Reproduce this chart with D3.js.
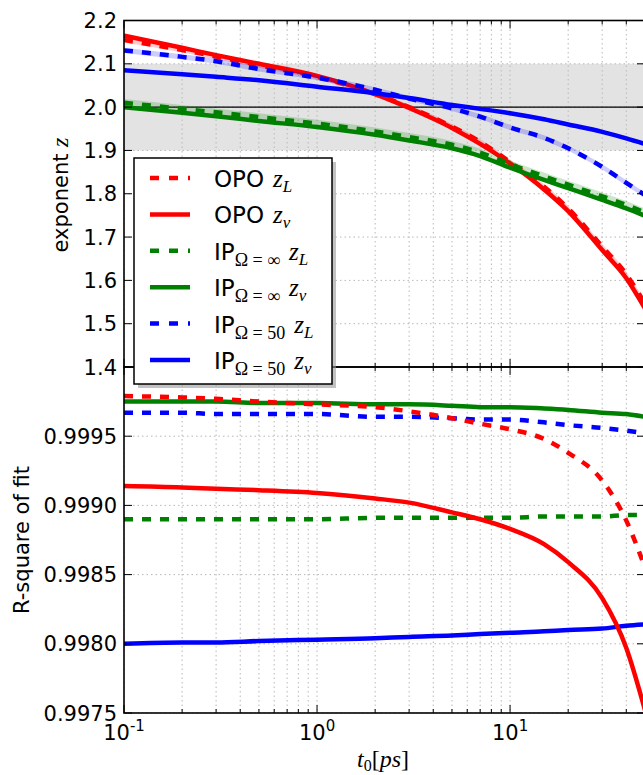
<!DOCTYPE html>
<html lang="en">
<head>
  <meta charset="UTF-8">
  <title>Exponent z and R-square of fit</title>
  <script src="https://d3js.org/d3.v7.min.js"></script>
  <style>
    body { margin: 0; background: #fff; }
    svg { display: block; font-family: "DejaVu Sans", sans-serif; }
    .tick-label { font-size: 21px; fill: #000; }
    .grid line { stroke: #b8b8b8; stroke-width: 1; stroke-dasharray: 1.5,3; }
    .math { font-family: "Liberation Serif", serif; font-style: italic; }
  </style>
</head>
<body>
<div id="chart"></div>
<script>
  // t0 sample positions [ps]
  const tVals = [0.1, 0.2, 0.3, 0.5, 1, 2, 3, 5, 7, 10, 15, 20, 30, 40, 50];

  // top panel: exponent z
  const opoZL   = [2.155, 2.132, 2.117, 2.097, 2.070, 2.030, 2.000, 1.955, 1.920, 1.873, 1.816, 1.766, 1.678, 1.614, 1.546];
  const opoZv   = [2.165, 2.137, 2.120, 2.100, 2.072, 2.030, 1.998, 1.952, 1.915, 1.870, 1.810, 1.760, 1.670, 1.605, 1.535];
  const ipInfZL = [2.010, 1.996, 1.988, 1.977, 1.962, 1.944, 1.931, 1.913, 1.895, 1.868, 1.840, 1.821, 1.794, 1.774, 1.757];
  const ipInfZv = [2.000, 1.987, 1.979, 1.968, 1.954, 1.936, 1.923, 1.905, 1.887, 1.860, 1.832, 1.813, 1.786, 1.766, 1.749];
  const ip50ZL  = [2.131, 2.116, 2.106, 2.088, 2.068, 2.040, 2.020, 1.997, 1.978, 1.953, 1.929, 1.905, 1.862, 1.825, 1.797];
  const ip50Zv  = [2.085, 2.076, 2.070, 2.062, 2.047, 2.032, 2.021, 2.005, 1.996, 1.986, 1.972, 1.960, 1.943, 1.928, 1.915];
  // half width of the error band drawn behind the z_L curves
  const bandHalf = [0.006, 0.009, 0.006];

  // bottom panel: R-square of fit
  const r2OpoZL   = [0.99979, 0.99978, 0.99977, 0.99975, 0.99973, 0.99971, 0.99968, 0.99963, 0.99959, 0.99955, 0.99948, 0.99938, 0.99918, 0.99889, 0.99855];
  const r2OpoZv   = [0.99914, 0.99913, 0.99912, 0.99911, 0.99909, 0.99905, 0.99902, 0.99895, 0.99890, 0.99883, 0.99872, 0.99859, 0.99833, 0.99797, 0.99752];
  const r2IpInfZL = [0.99890, 0.99890, 0.99890, 0.99890, 0.99890, 0.99891, 0.99891, 0.99891, 0.99891, 0.99891, 0.99892, 0.99892, 0.99892, 0.99893, 0.99893];
  const r2IpInfZv = [0.99975, 0.99975, 0.99975, 0.99974, 0.99974, 0.99973, 0.99973, 0.99972, 0.99971, 0.99971, 0.99970, 0.99969, 0.99967, 0.99966, 0.99964];
  const r2Ip50ZL  = [0.99967, 0.99967, 0.99966, 0.99966, 0.99966, 0.99964, 0.99964, 0.99963, 0.99962, 0.99962, 0.99960, 0.99958, 0.99956, 0.99954, 0.99952];
  const r2Ip50Zv  = [0.99800, 0.99801, 0.99801, 0.99802, 0.99803, 0.99804, 0.99805, 0.99806, 0.99807, 0.99808, 0.99809, 0.99810, 0.99811, 0.99813, 0.99814];

  const topTicks = [1.4, 1.5, 1.6, 1.7, 1.8, 1.9, 2.0, 2.1, 2.2];
  const botTicks = [0.9975, 0.9980, 0.9985, 0.9990, 0.9995];
  const xMajor = [0.1, 1, 10];
  const xMajorExp = ["-1", "0", "1"];

  const W = 643, H = 775;
  const svg = d3.select("#chart").append("svg").attr("width", W).attr("height", H);

  const x = d3.scaleLog().domain([0.1, 50]).range([124, 645]);
  const yTop = d3.scaleLinear().domain([1.4, 2.2]).range([367, 20.5]);
  const yBot = d3.scaleLinear().domain([0.9975, 1.0]).range([713, 367]);

  const xMinor = [];
  [0.1, 1, 10].forEach(d => { for (let k = 2; k <= 9; k++) { const v = d * k; if (v < 50) xMinor.push(v); } });

  const series = [
    { name: "OPO", sub: null, color: "#ff0000", zL: opoZL, zv: opoZv, rL: r2OpoZL, rv: r2OpoZv },
    { name: "IP", sub: "Ω = ∞", color: "#008000", zL: ipInfZL, zv: ipInfZv, rL: r2IpInfZL, rv: r2IpInfZv },
    { name: "IP", sub: "Ω = 50", color: "#0000ff", zL: ip50ZL, zv: ip50Zv, rL: r2Ip50ZL, rv: r2Ip50Zv }
  ];

  const LW = 4.5;

  function panel(y, ticks, fmt, drawExtra) {
    const g = svg.append("g");
    const [y0, y1] = y.range();
    const clipId = "clip" + Math.round(y0);
    svg.append("clipPath").attr("id", clipId).append("rect")
      .attr("x", 124).attr("y", y1).attr("width", 521).attr("height", y0 - y1);

    const inner = g.append("g").attr("clip-path", `url(#${clipId})`);
    drawExtra(inner, "pre");

    // dotted grid
    const grid = inner.append("g").attr("class", "grid");
    grid.selectAll(".gx").data(xMinor.concat(xMajor)).enter().append("line")
      .attr("x1", d => x(d)).attr("x2", d => x(d)).attr("y1", y1).attr("y2", y0);
    grid.selectAll(".gy").data(ticks).enter().append("line")
      .attr("x1", 124).attr("x2", 645).attr("y1", d => y(d)).attr("y2", d => y(d));

    drawExtra(inner, "lines");

    // ticks on all four sides (inward)
    const tk = g.append("g").attr("stroke", "#000").attr("stroke-width", 1);
    xMajor.forEach(v => {
      tk.append("line").attr("x1", x(v)).attr("x2", x(v)).attr("y1", y0).attr("y2", y0 - 8);
      tk.append("line").attr("x1", x(v)).attr("x2", x(v)).attr("y1", y1).attr("y2", y1 + 8);
    });
    xMinor.forEach(v => {
      tk.append("line").attr("x1", x(v)).attr("x2", x(v)).attr("y1", y0).attr("y2", y0 - 4);
      tk.append("line").attr("x1", x(v)).attr("x2", x(v)).attr("y1", y1).attr("y2", y1 + 4);
    });
    ticks.forEach(v => {
      tk.append("line").attr("x1", 124).attr("x2", 132).attr("y1", y(v)).attr("y2", y(v));
      tk.append("line").attr("x1", 645).attr("x2", 637).attr("y1", y(v)).attr("y2", y(v));
    });

    // frame
    g.append("rect").attr("x", 124).attr("y", y1).attr("width", 521).attr("height", y0 - y1)
      .attr("fill", "none").attr("stroke", "#000").attr("stroke-width", 1.6);

    // y tick labels
    g.selectAll(".yl").data(ticks).enter().append("text").attr("class", "tick-label")
      .attr("x", 117).attr("y", d => y(d)).attr("dy", "0.36em")
      .attr("text-anchor", "end").text(fmt);
    return g;
  }

  const line = (yS, vals) => d3.line().x((d, i) => x(tVals[i])).y(d => yS(d)).curve(d3.curveMonotoneX)(vals);
  const area = (yS, vals, h) => d3.area().x((d, i) => x(tVals[i])).y0(d => yS(d - h)).y1(d => yS(d + h))
    .curve(d3.curveMonotoneX)(vals);

  // top panel
  panel(yTop, topTicks, d => d.toFixed(1), (g, stage) => {
    if (stage === "pre") {
      g.append("rect").attr("x", 124).attr("width", 521)
        .attr("y", yTop(2.1)).attr("height", yTop(1.9) - yTop(2.1)).attr("fill", "#e3e3e3");
      return;
    }
    g.append("line").attr("x1", 124).attr("x2", 645).attr("y1", yTop(2.0)).attr("y2", yTop(2.0))
      .attr("stroke", "#000").attr("stroke-width", 1.2);
    series.forEach((s, i) => {
      g.append("path").attr("d", area(yTop, s.zL, bandHalf[i])).attr("fill", s.color).attr("opacity", 0.2);
      g.append("path").attr("d", line(yTop, s.zv)).attr("fill", "none").attr("stroke", s.color).attr("stroke-width", LW);
      g.append("path").attr("d", line(yTop, s.zL)).attr("fill", "none").attr("stroke", s.color)
        .attr("stroke-width", LW).attr("stroke-dasharray", "9,9");
    });
  });

  // bottom panel
  panel(yBot, botTicks, d => d.toFixed(4), (g, stage) => {
    if (stage === "pre") return;
    series.slice().reverse().forEach(s => {
      g.append("path").attr("d", line(yBot, s.rv)).attr("fill", "none").attr("stroke", s.color).attr("stroke-width", LW);
      g.append("path").attr("d", line(yBot, s.rL)).attr("fill", "none").attr("stroke", s.color)
        .attr("stroke-width", LW).attr("stroke-dasharray", "9,9");
    });
  });

  // x tick labels
  xMajor.forEach((v, i) => {
    const t = svg.append("text").attr("class", "tick-label").attr("x", x(v)).attr("y", 740).attr("text-anchor", "middle");
    t.append("tspan").text("10");
    t.append("tspan").attr("dy", -9).attr("font-size", 15).text(xMajorExp[i]);
  });

  // axis labels
  const xl = svg.append("text").attr("x", 383).attr("y", 767).attr("text-anchor", "middle")
    .attr("font-family", "Liberation Serif, serif").attr("font-size", 24);
  xl.append("tspan").attr("font-style", "italic").text("t");
  xl.append("tspan").attr("dy", 4).attr("font-size", 16).text("0");
  xl.append("tspan").attr("dy", -4).text("[");
  xl.append("tspan").attr("font-style", "italic").text("ps");
  xl.append("tspan").text("]");

  const yl1 = svg.append("text").attr("transform", `translate(68,195) rotate(-90)`)
    .attr("text-anchor", "middle").attr("font-size", 21);
  yl1.append("tspan").text("exponent ");
  yl1.append("tspan").attr("class", "math").attr("font-size", 24).text("z");

  svg.append("text").attr("transform", `translate(29,540) rotate(-90)`)
    .attr("text-anchor", "middle").attr("font-size", 21).text("R-square of fit");

  // legend
  const lg = svg.append("g");
  lg.append("rect").attr("x", 138).attr("y", 162).attr("width", 198).attr("height", 226).attr("fill", "#999").attr("opacity", 0.6);
  lg.append("rect").attr("x", 134).attr("y", 158).attr("width", 198).attr("height", 226)
    .attr("fill", "#fff").attr("stroke", "#000").attr("stroke-width", 1.5);
  const entries = [];
  series.forEach(s => {
    entries.push({ s, dashed: true, z: "L" });
    entries.push({ s, dashed: false, z: "v" });
  });
  entries.forEach((e, i) => {
    const cy = 178 + i * 36.4;
    lg.append("line").attr("x1", 150).attr("x2", 190).attr("y1", cy).attr("y2", cy)
      .attr("stroke", e.s.color).attr("stroke-width", LW)
      .attr("stroke-dasharray", e.dashed ? "9,10" : null);
    const t = lg.append("text").attr("x", 214).attr("y", cy + 9).attr("font-size", 23);
    t.append("tspan").text(e.s.name);
    let zt;
    if (e.s.sub) {
      t.append("tspan").attr("dy", 6).attr("font-size", 18).attr("font-family", "Liberation Serif, serif").text(e.s.sub);
      zt = t.append("tspan").attr("dy", -6).attr("dx", 9);
    } else {
      zt = t.append("tspan").attr("dx", 9);
    }
    zt.attr("class", "math").attr("font-size", 25).text("z");
    t.append("tspan").attr("class", "math").attr("dy", 5).attr("font-size", 17).text(e.z);
  });
</script>
</body>
</html>
